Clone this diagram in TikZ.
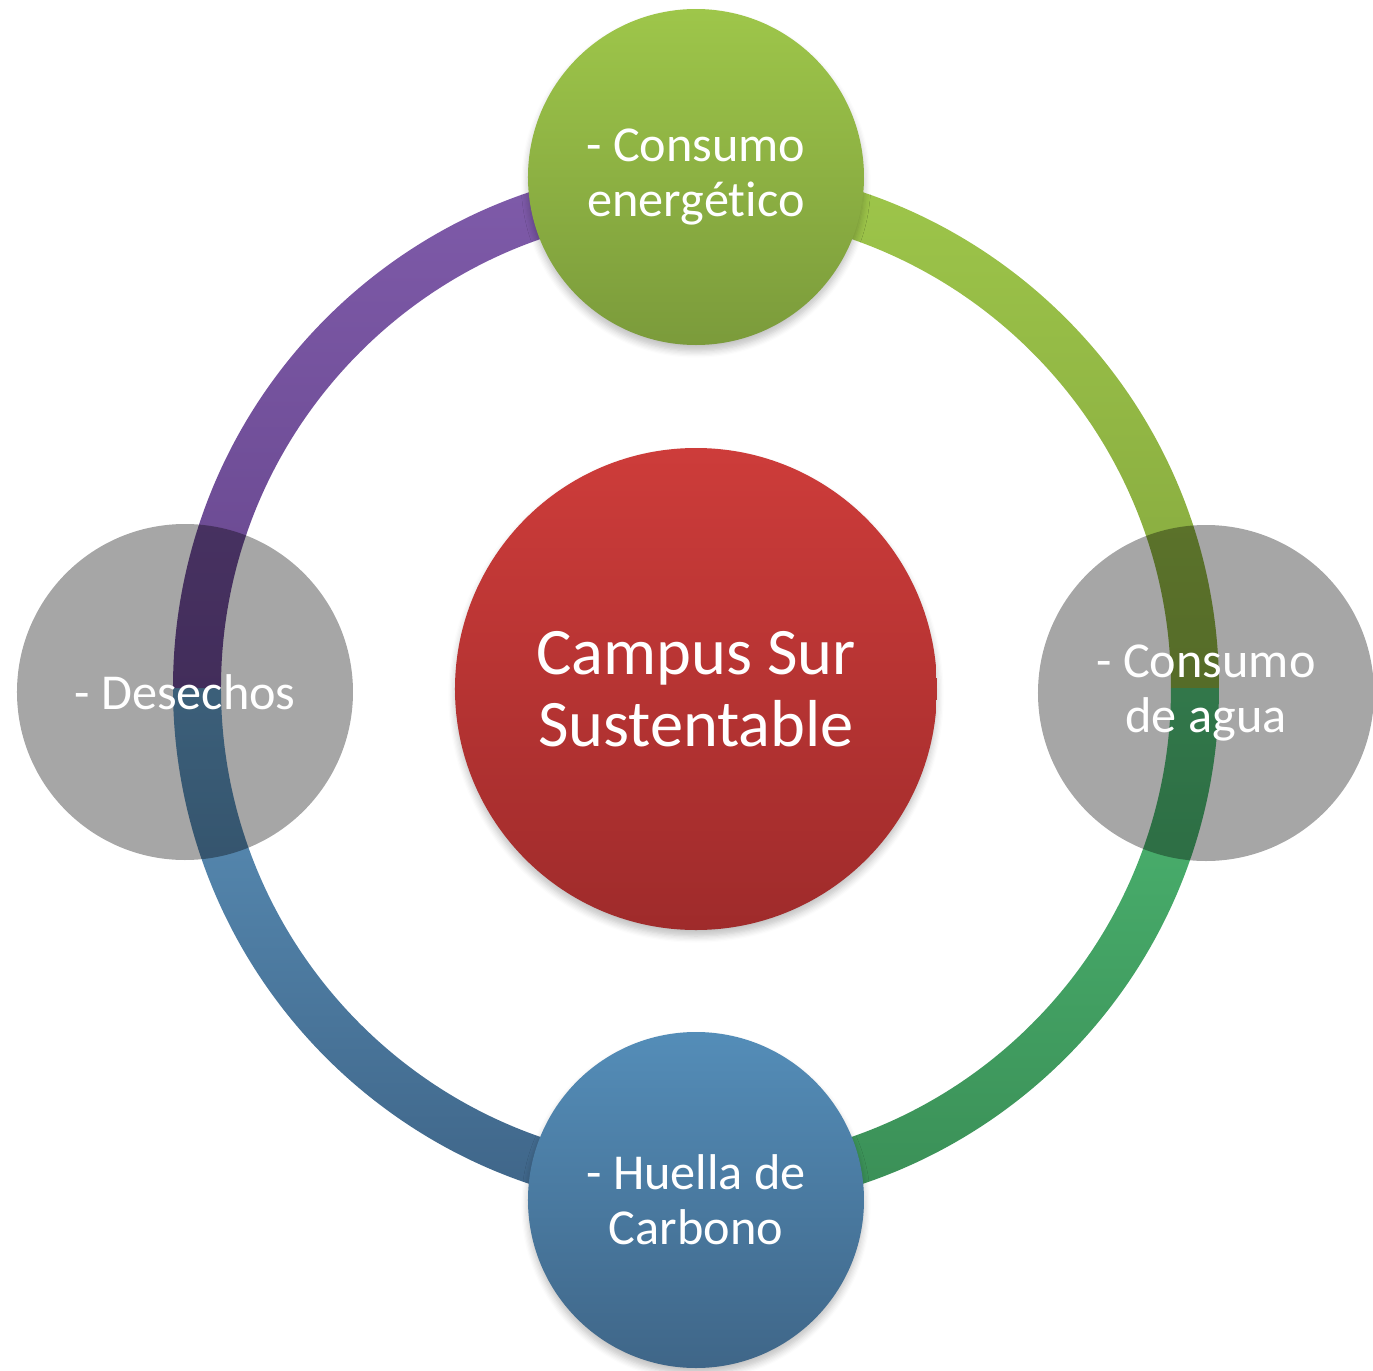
\documentclass[tikz,border=0pt]{standalone}
\usepackage{fontspec}
\setmainfont[Ligatures=NoCommon]{Carlito}
\usepackage{xcolor}
\usepackage{tikz}
\usetikzlibrary{shadows.blur}

\definecolor{limeTop}{HTML}{9EC64A}
\definecolor{limeBot}{HTML}{7B9B3B}
\definecolor{limeArc}{HTML}{84A63E}
\definecolor{mintTop}{HTML}{4DB873}
\definecolor{mintBot}{HTML}{3A8E56}
\definecolor{steelTop}{HTML}{548DB8}
\definecolor{steelBot}{HTML}{3F6688}
\definecolor{steelArc}{HTML}{3E6487}
\definecolor{plumTop}{HTML}{7F5BAA}
\definecolor{plumBot}{HTML}{66468C}
\definecolor{rubyTop}{HTML}{CD3C3A}
\definecolor{rubyBot}{HTML}{9F2B2B}

\begin{document}
\begin{tikzpicture}[
    bubble/.style={circle, minimum size=3.36cm, inner sep=0pt, align=center,
        text=white, font=\fontsize{14.3}{15.6}\selectfont},
    solid bubble/.style={bubble, blur shadow={shadow xshift=0pt, shadow yshift=-0.06cm,
        shadow blur steps=6, shadow opacity=25}},
    ghost/.style={bubble, fill=black, fill opacity=0.35, text opacity=1}]
    \useasboundingbox (-6.96,-6.82) rectangle (6.77,6.88);

    % Ring
    \coordinate (hub) at (0,0);
    \shade[top color=limeTop, bottom color=limeArc]
        (hub) ++(0:5.23) arc[start angle=0, end angle=90, radius=5.23]
        -- ++(0,-0.48) arc[start angle=90, end angle=0, radius=4.75] -- cycle;
    \shade[top color=mintTop, bottom color=mintBot]
        (hub) ++(0:5.23) arc[start angle=0, end angle=-90, radius=5.23]
        -- ++(0,0.48) arc[start angle=-90, end angle=0, radius=4.75] -- cycle;
    \shade[top color=steelTop!95!white, bottom color=steelArc]
        (hub) ++(180:5.23) arc[start angle=180, end angle=270, radius=5.23]
        -- ++(0,0.48) arc[start angle=270, end angle=180, radius=4.75] -- cycle;
    \shade[top color=plumTop, bottom color=plumBot]
        (hub) ++(180:5.23) arc[start angle=180, end angle=90, radius=5.23]
        -- ++(0,-0.48) arc[start angle=90, end angle=180, radius=4.75] -- cycle;

    % Desechos
    \node[ghost] (desechos) at (-5.11,-0.04) {- Desechos};

    % Consumo de agua
    \node[ghost] (agua) at (5.10,-0.05) {- Consumo\\de agua};

    % Campus Sur Sustentable
    \node[solid bubble, minimum size=4.82cm, top color=rubyTop, bottom color=rubyBot,
        font=\fontsize{18.9}{20.4}\selectfont] (campus) at (0,-0.01) {Campus Sur\\Sustentable};

    % Consumo energetico
    \node[solid bubble, top color=limeTop, bottom color=limeBot] (energia) at (0,5.11)
        {- Consumo\\energético};

    % Huella de Carbono
    \node[solid bubble, top color=steelTop, bottom color=steelBot] (carbono) at (0,-5.12)
        {- Huella de\\Carbono};
\end{tikzpicture}
\end{document}
